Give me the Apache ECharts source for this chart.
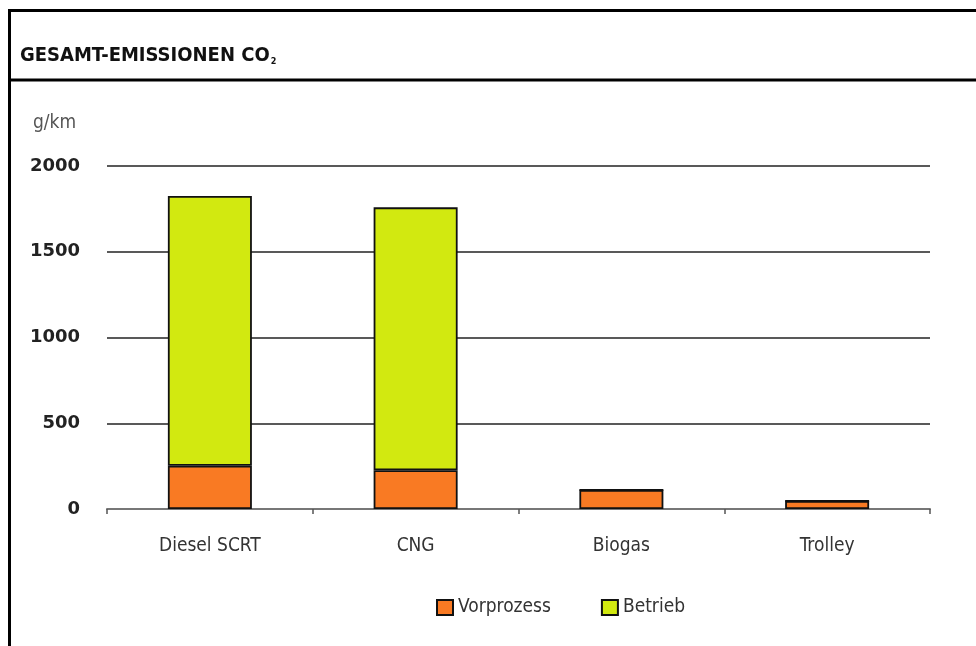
<!DOCTYPE html>
<html><head><meta charset="utf-8">
<script src="https://cdn.jsdelivr.net/npm/echarts@6/dist/echarts.min.js"></script>
<style>html,body{margin:0;padding:0;background:#fff}#c{width:976px;height:646px}</style>
</head><body><div id="c"></div>
<script>
var categories = ['Diesel SCRT', 'CNG', 'Biogas', 'Trolley'];
var vorprozess = [252, 226, 111, 47];
var betrieb = [1573, 1533, 0, 0];
var yTicks = [0, 500, 1000, 1500, 2000];

var chart = echarts.init(document.getElementById('c'), null, {renderer: 'canvas'});
var cond = "'DejaVu Sans Condensed', 'DejaVu Sans', sans-serif";
chart.setOption({
  animation: false,
  backgroundColor: '#fff',
  title: [{
    text: '{t|GESAMT-EMISSIONEN CO}{s|2}',
    left: 15, top: 40,
    textStyle: {
      rich: {
        t: {fontFamily: cond, fontWeight: 'bold', fontSize: 20, color: '#111'},
        s: {fontFamily: cond, fontWeight: 'bold', fontSize: 9, color: '#111', verticalAlign: 'bottom', padding: [12, 0, 0, 1]}
      }
    }
  }, {
    text: 'g/km', left: 28, top: 109,
    textStyle: {fontFamily: cond, fontWeight: 'normal', fontSize: 19, color: '#555'}
  }],
  graphic: [
    {type: 'line', shape: {x1: 9, y1: 10.5, x2: 976, y2: 10.5}, style: {stroke: '#000', lineWidth: 3}},
    {type: 'line', shape: {x1: 9, y1: 80, x2: 976, y2: 80}, style: {stroke: '#000', lineWidth: 3}},
    {type: 'line', shape: {x1: 9.5, y1: 9, x2: 9.5, y2: 646}, style: {stroke: '#000', lineWidth: 3}}
  ],
  legend: {
    left: 431, top: 593,
    itemWidth: 16, itemHeight: 15, itemGap: 50,
    icon: 'rect',
    textStyle: {fontFamily: cond, fontSize: 19, color: '#333'},
    data: ['Vorprozess', 'Betrieb']
  },
  grid: {left: 107, right: 46, top: 166, bottom: 137, containLabel: false},
  xAxis: {
    type: 'category', data: categories,
    axisLine: {lineStyle: {color: '#777', width: 2}},
    axisTick: {show: true, length: 5, lineStyle: {color: '#555', width: 1.5}},
    axisLabel: {margin: 28, fontFamily: cond, fontSize: 19, color: '#333'}
  },
  yAxis: {
    type: 'value', min: 0, max: 2000, interval: 500,
    axisLine: {show: false}, axisTick: {show: false},
    axisLabel: {margin: 27, fontFamily: "'DejaVu Sans', sans-serif", fontWeight: 'bold', fontSize: 18, color: '#222',
      formatter: function (v) { return yTicks.indexOf(v) >= 0 ? String(v) : ''; }},
    splitLine: {lineStyle: {color: '#222', width: 1.5}}
  },
  series: [{
    name: 'Vorprozess', type: 'bar', stack: 'a', data: vorprozess, barWidth: 84,
    itemStyle: {color: '#F97A23', borderColor: '#111', borderWidth: 1.8}
  }, {
    name: 'Betrieb', type: 'bar', stack: 'a', data: betrieb, barWidth: 84,
    itemStyle: {color: '#D2E910', borderColor: '#111', borderWidth: 1.8}
  }]
});
</script></body></html>
